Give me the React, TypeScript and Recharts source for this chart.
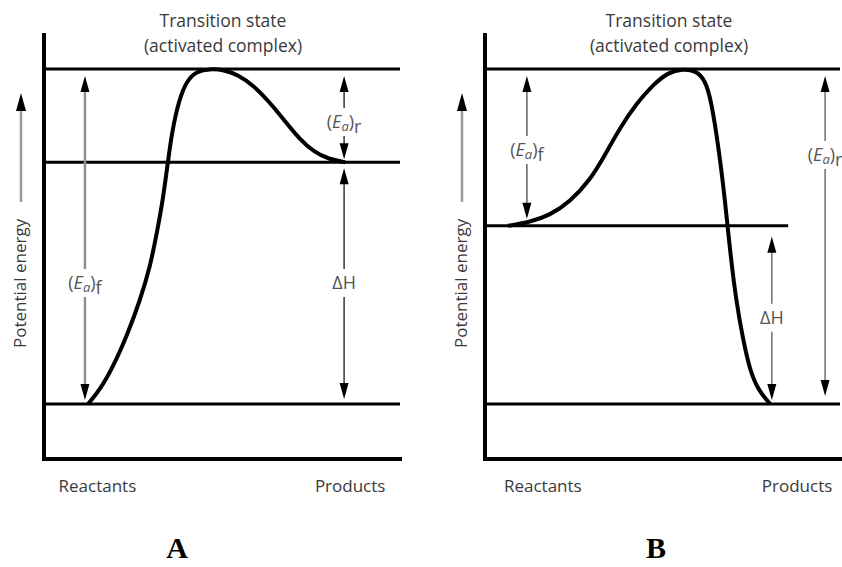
import React from 'react';
import { LineChart, Line, XAxis, YAxis, ReferenceLine, Label } from 'recharts';

// reaction coordinate (0-100) vs potential energy (0-100)
const curveA = [
  { x: 12.4, y: 13 }, { x: 15.7, y: 16.3 }, { x: 19.4, y: 21.7 }, { x: 23.6, y: 29.7 },
  { x: 27.0, y: 37.5 }, { x: 29.8, y: 45.3 }, { x: 31.7, y: 53.3 }, { x: 33.4, y: 61.1 },
  { x: 34.8, y: 70.0 }, { x: 35.9, y: 76.9 }, { x: 37.9, y: 84.7 }, { x: 40.2, y: 89.4 },
  { x: 43.0, y: 91.5 }, { x: 46.5, y: 92 }, { x: 50.5, y: 91.8 }, { x: 54.5, y: 90.6 },
  { x: 58.7, y: 88.2 }, { x: 63.0, y: 84.5 }, { x: 67.4, y: 80.0 }, { x: 71.6, y: 75.6 },
  { x: 75.8, y: 72.4 }, { x: 80.0, y: 70.7 }, { x: 84.6, y: 70 },
];

const curveB = [
  { x: 6.5, y: 55 }, { x: 12.7, y: 55.9 }, { x: 18.3, y: 57.5 }, { x: 23.9, y: 60.6 },
  { x: 29.6, y: 65.8 }, { x: 33.8, y: 71.7 }, { x: 38.0, y: 78.1 }, { x: 42.8, y: 84.0 },
  { x: 47.3, y: 88.2 }, { x: 51.5, y: 91.2 }, { x: 55.8, y: 92 }, { x: 59.4, y: 91.6 },
  { x: 62.0, y: 89.4 }, { x: 63.7, y: 84.7 }, { x: 65.9, y: 72.9 }, { x: 67.6, y: 61.1 },
  { x: 69.0, y: 49.3 }, { x: 70.7, y: 37.5 }, { x: 72.7, y: 28.1 }, { x: 74.6, y: 21.0 },
  { x: 76.9, y: 16.3 }, { x: 80.3, y: 13 },
];

// energy levels: transition state, products / reactants
const levelsA = [92, 70, 13];
const levelsB = [92, 13];
const reactantsB = 55;
const reactantsLineEndB = 85.4;

type Arrow = { id: string; x: number; from: number; to: number; labelAt: number };

const arrowsA: Arrow[] = [
  { id: 'eaf', x: 11.5, from: 13, to: 92, labelAt: 41.5 },
  { id: 'ear', x: 84.3, from: 70, to: 92, labelAt: 79.5 },
  { id: 'dh', x: 84.3, from: 13, to: 70, labelAt: 41.5 },
];

const arrowsB: Arrow[] = [
  { id: 'eaf', x: 11.8, from: 55, to: 92, labelAt: 72.9 },
  { id: 'ear', x: 95.8, from: 13, to: 92, labelAt: 71.7 },
  { id: 'dh', x: 80.8, from: 13, to: 55, labelAt: 33.3 },
];

const tickPosA = [15, 86];
const tickPosB = [16.3, 87.9];
const tickNames = ['Reactants', 'Products'];
const panelNames = ['A', 'B'];
const titleLines = ['Transition state', '(activated complex)'];

const FONT = '"Open Sans", "Noto Sans", sans-serif';
const TEXT = '#3a3a3a';

const arrowStyles: Record<string, { stroke: string; width: number; padTop: number; padBottom: number }> = {
  'A-eaf': { stroke: '#909090', width: 2.5, padTop: 7, padBottom: 4 },
  'A-ear': { stroke: '#444', width: 1.6, padTop: 7, padBottom: 3 },
  'A-dh': { stroke: '#444', width: 1.6, padTop: 6, padBottom: 5 },
  'B-eaf': { stroke: '#555', width: 1.4, padTop: 7, padBottom: 7 },
  'B-ear': { stroke: '#666', width: 1.4, padTop: 7, padBottom: 8 },
  'B-dh': { stroke: '#666', width: 1.4, padTop: 11, padBottom: 4 },
};

const ArrowLabel = ({ id, x, y }: { id: string; x: number; y: number }) => {
  const common = { x, y: y + 6, textAnchor: 'middle' as const, fontSize: 18, fill: '#555', fontFamily: FONT };
  if (id === 'dh') return <text {...common}>{'\u0394H'}</text>;
  return (
    <text {...common}>
      (<tspan fontStyle="italic">E</tspan>
      <tspan fontStyle="italic" fontSize={13} dy={3}>a</tspan>
      <tspan dy={-3}>)</tspan>
      <tspan dy={5}>{id === 'eaf' ? 'f' : 'r'}</tspan>
    </text>
  );
};

const arrowShape = (a: Arrow, panel: string) => (p: any) => {
  const st = arrowStyles[`${panel}-${a.id}`];
  const x = p.x1;
  const top = Math.min(p.y1, p.y2) + st.padTop;
  const bottom = Math.max(p.y1, p.y2) - st.padBottom;
  const ly = p.y1 + ((a.labelAt - a.from) / (a.to - a.from)) * (p.y2 - p.y1);
  const H = 16;
  const W = 4.5;
  const gap = 14;
  return (
    <g>
      <line x1={x} y1={top + H - 1} x2={x} y2={ly - gap} stroke={st.stroke} strokeWidth={st.width} />
      <line x1={x} y1={ly + gap} x2={x} y2={bottom - H + 1} stroke={st.stroke} strokeWidth={st.width} />
      <polygon points={`${x},${top} ${x - W},${top + H} ${x + W},${top + H}`} fill="#000" />
      <polygon points={`${x},${bottom} ${x - W},${bottom - H} ${x + W},${bottom - H}`} fill="#000" />
      <ArrowLabel id={a.id} x={x} y={ly} />
    </g>
  );
};

const EnergyLabel = (props: any) => {
  const { x, y, width, height } = props.viewBox;
  const axisX = x + width;
  const tx = axisX - 18;
  const ty = y + height - 111;
  const ax = axisX - 23;
  return (
    <g>
      <text x={tx} y={ty} transform={`rotate(-90 ${tx} ${ty})`} fontSize={17} fill={TEXT} fontFamily={FONT}>
        Potential energy
      </text>
      <line x1={ax} y1={y + height - 257} x2={ax} y2={y + 74} stroke="#999" strokeWidth={2.5} />
      <polygon points={`${ax},${y + 58} ${ax - 5},${y + 76} ${ax + 5},${y + 76}`} fill="#000" />
    </g>
  );
};

const tickLabel = (positions: number[]) => (p: any) => {
  const i = positions.indexOf(p.payload.value);
  return (
    <text x={p.x} y={p.y + 33} textAnchor="middle" fontSize={17} fill={TEXT} fontFamily={FONT}>
      {tickNames[i]}
    </text>
  );
};

const axisLine = { stroke: '#000', strokeWidth: 4, strokeLinecap: 'square' as const };

const Panel = ({ data, ticks, margin, children }: any) => (
  <LineChart width={421} height={567} data={data} margin={margin}>
    <XAxis
      type="number"
      dataKey="x"
      domain={[0, 100]}
      ticks={ticks}
      interval={0}
      height={1}
      tickSize={0}
      tickMargin={0}
      tickLine={false}
      axisLine={axisLine}
      tick={tickLabel(ticks)}
    />
    <YAxis type="number" domain={[0, 100]} width={1} tick={false} tickLine={false} axisLine={axisLine}>
      <Label content={EnergyLabel} />
    </YAxis>
    {children}
    <Line
      type="basis"
      dataKey="y"
      stroke="#000"
      strokeWidth={4}
      dot={false}
      activeDot={false}
      isAnimationActive={false}
    />
  </LineChart>
);

const Title = ({ center }: { center: number }) => (
  <div
    style={{
      position: 'absolute',
      left: center - 120,
      top: 8,
      width: 240,
      textAlign: 'center',
      fontFamily: FONT,
      fontSize: 17.5,
      lineHeight: '25px',
      color: TEXT,
    }}
  >
    {titleLines.map((t) => (
      <div key={t}>{t}</div>
    ))}
  </div>
);

const PanelName = ({ center, name }: { center: number; name: string }) => (
  <div
    style={{
      position: 'absolute',
      left: center - 30,
      top: 528,
      width: 60,
      textAlign: 'center',
      fontFamily: '"Liberation Serif", "Times New Roman", serif',
      fontWeight: 'bold',
      fontSize: 30,
      lineHeight: '40px',
      color: '#000',
    }}
  >
    {name}
  </div>
);

const App: React.FC = () => {
  return (
    <div style={{ position: 'absolute', left: 0, top: 0, width: 842, height: 567, background: '#fff', overflow: 'hidden' }}>
      <div style={{ position: 'absolute', left: 0, top: 0 }}>
        <Panel data={curveA} ticks={tickPosA} margin={{ top: 35, right: 21, bottom: 107, left: 43 }}>
          {levelsA.map((v) => (
            <ReferenceLine key={v} y={v} stroke="#000" strokeWidth={3} />
          ))}
          {arrowsA.map((a) => (
            <ReferenceLine
              key={a.id}
              segment={[{ x: a.x, y: a.from }, { x: a.x, y: a.to }]}
              shape={arrowShape(a, 'A')}
            />
          ))}
        </Panel>
      </div>
      <div style={{ position: 'absolute', left: 421, top: 0 }}>
        <Panel data={curveB} ticks={tickPosB} margin={{ top: 35, right: 2, bottom: 107, left: 63 }}>
          {levelsB.map((v) => (
            <ReferenceLine key={v} y={v} stroke="#000" strokeWidth={3} />
          ))}
          <ReferenceLine
            segment={[{ x: 0, y: reactantsB }, { x: reactantsLineEndB, y: reactantsB }]}
            stroke="#000"
            strokeWidth={3}
          />
          {arrowsB.map((a) => (
            <ReferenceLine
              key={a.id}
              segment={[{ x: a.x, y: a.from }, { x: a.x, y: a.to }]}
              shape={arrowShape(a, 'B')}
            />
          ))}
        </Panel>
      </div>
      <Title center={223} />
      <Title center={669} />
      <PanelName center={177} name={panelNames[0]} />
      <PanelName center={656} name={panelNames[1]} />
    </div>
  );
};

export default App;
